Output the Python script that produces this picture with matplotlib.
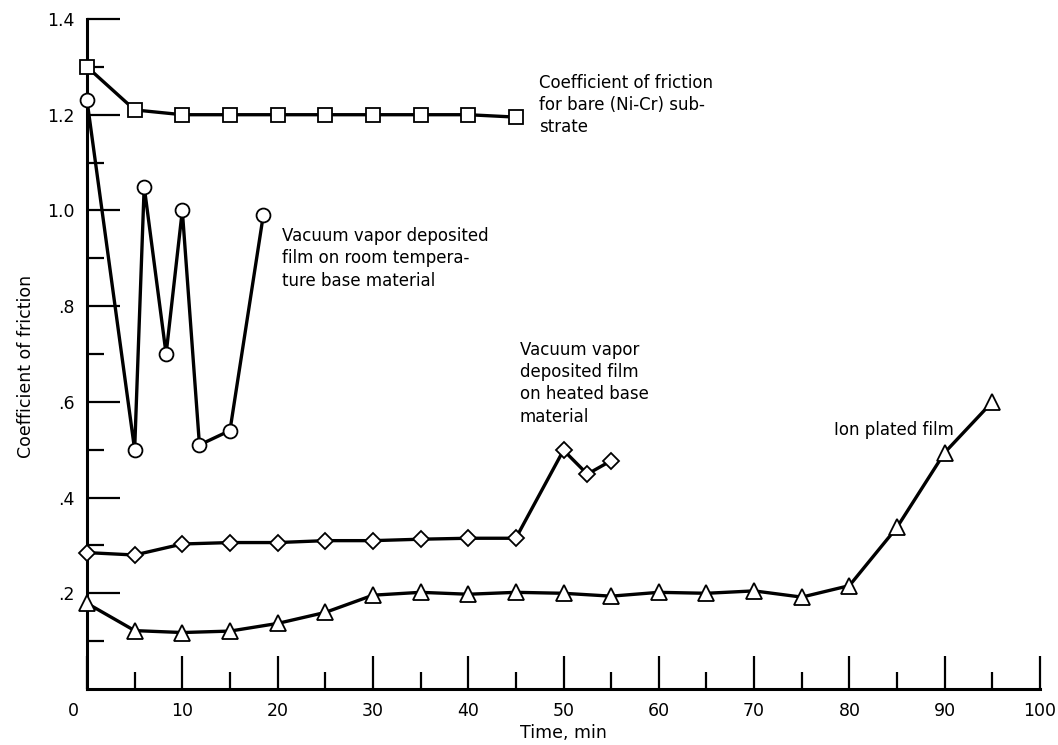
import matplotlib
matplotlib.use("Agg")
import matplotlib.pyplot as plt
from matplotlib.ticker import MultipleLocator, FixedLocator, FixedFormatter
from matplotlib.transforms import ScaledTranslation

plt.rcParams["font.family"] = ["DejaVu Sans"]

# bare Ni-Cr substrate (squares)
t_bare = [0, 5, 10, 15, 20, 25, 30, 35, 40, 45]
mu_bare = [1.30, 1.21, 1.20, 1.20, 1.20, 1.20, 1.20, 1.20, 1.20, 1.195]

# vacuum vapor deposited, room temperature base (circles)
t_room = [0, 5, 6, 8.3, 10, 11.8, 15, 18.5]
mu_room = [1.23, 0.50, 1.05, 0.70, 1.00, 0.51, 0.54, 0.99]

# vacuum vapor deposited, heated base (diamonds)
t_heat = [0, 5, 10, 15, 20, 25, 30, 35, 40, 45, 50, 52.5, 55]
mu_heat = [0.285, 0.280, 0.303, 0.306, 0.306, 0.310, 0.310, 0.313, 0.315, 0.315,
           0.499, 0.449, 0.477]

# ion plated film (triangles)
t_ion = [0, 5, 10, 15, 20, 25, 30, 35, 40, 45, 50, 55, 60, 65, 70, 75, 80, 85, 90, 95]
mu_ion = [0.179, 0.122, 0.118, 0.121, 0.137, 0.160, 0.196, 0.202, 0.198, 0.202,
          0.200, 0.194, 0.202, 0.200, 0.205, 0.192, 0.216, 0.338, 0.494, 0.600]

y_ticks = [0.2, 0.4, 0.6, 0.8, 1.0, 1.2, 1.4]
y_labels = [".2", ".4", ".6", ".8", "1.0", "1.2", "1.4"]

fig = plt.figure(figsize=(10.58, 7.45), dpi=100)
ax = fig.add_axes([87 / 1058, 1 - 689 / 745, (1040 - 87) / 1058, (689 - 19) / 745])

line_kw = dict(color="black", lw=2.4, mfc="white", mec="black", mew=1.3,
               solid_joinstyle="round", clip_on=False, zorder=3)
ax.plot(t_bare, mu_bare, marker="s", ms=9.5, **line_kw)
ax.plot(t_room, mu_room, marker="o", ms=10, **line_kw)
ax.plot(t_heat, mu_heat, marker="D", ms=8, **line_kw)
ax.plot(t_ion, mu_ion, marker="^", ms=11.5, **line_kw)

ax.set_xlim(0, 100)
ax.set_ylim(0, 1.4)

for side in ("top", "right"):
    ax.spines[side].set_visible(False)
for side in ("left", "bottom"):
    ax.spines[side].set_linewidth(2.2)

ax.xaxis.set_major_locator(MultipleLocator(10))
ax.xaxis.set_minor_locator(MultipleLocator(5))
ax.yaxis.set_major_locator(FixedLocator(y_ticks))
ax.yaxis.set_major_formatter(FixedFormatter(y_labels))
ax.yaxis.set_minor_locator(FixedLocator([0.1, 0.3, 0.5, 0.7, 0.9, 1.1, 1.3]))

ax.tick_params(which="both", direction="in", width=1.6, labelsize=12.5)
ax.tick_params(which="major", length=24, pad=9)
ax.tick_params(which="minor", length=12)

# the "0" sits left of the axis corner in the original
for lbl in ax.get_xticklabels():
    if lbl.get_text() == "0":
        lbl.set_transform(lbl.get_transform() + ScaledTranslation(-14 / 100, 0, fig.dpi_scale_trans))

txt_kw = dict(fontsize=12, ha="left", va="top", linespacing=1.3)
ax.text(47.4, 1.285, "Coefficient of friction\nfor bare (Ni-Cr) sub-\nstrate", **txt_kw)
ax.text(20.5, 0.965, "Vacuum vapor deposited\nfilm on room tempera-\nture base material", **txt_kw)
ax.text(45.4, 0.727, "Vacuum vapor\ndeposited film\non heated base\nmaterial", **txt_kw)
ax.text(78.4, 0.541, "Ion plated film", fontsize=12, ha="left", va="center")

fig.text(26 / 1058, 1 - 366 / 745, "Coefficient of friction", rotation=90,
         ha="center", va="center", fontsize=12.5)
fig.text(563 / 1058, 1 - 733 / 745, "Time, min", ha="center", va="center", fontsize=12.5)

fig.savefig("out.png", dpi=100)
